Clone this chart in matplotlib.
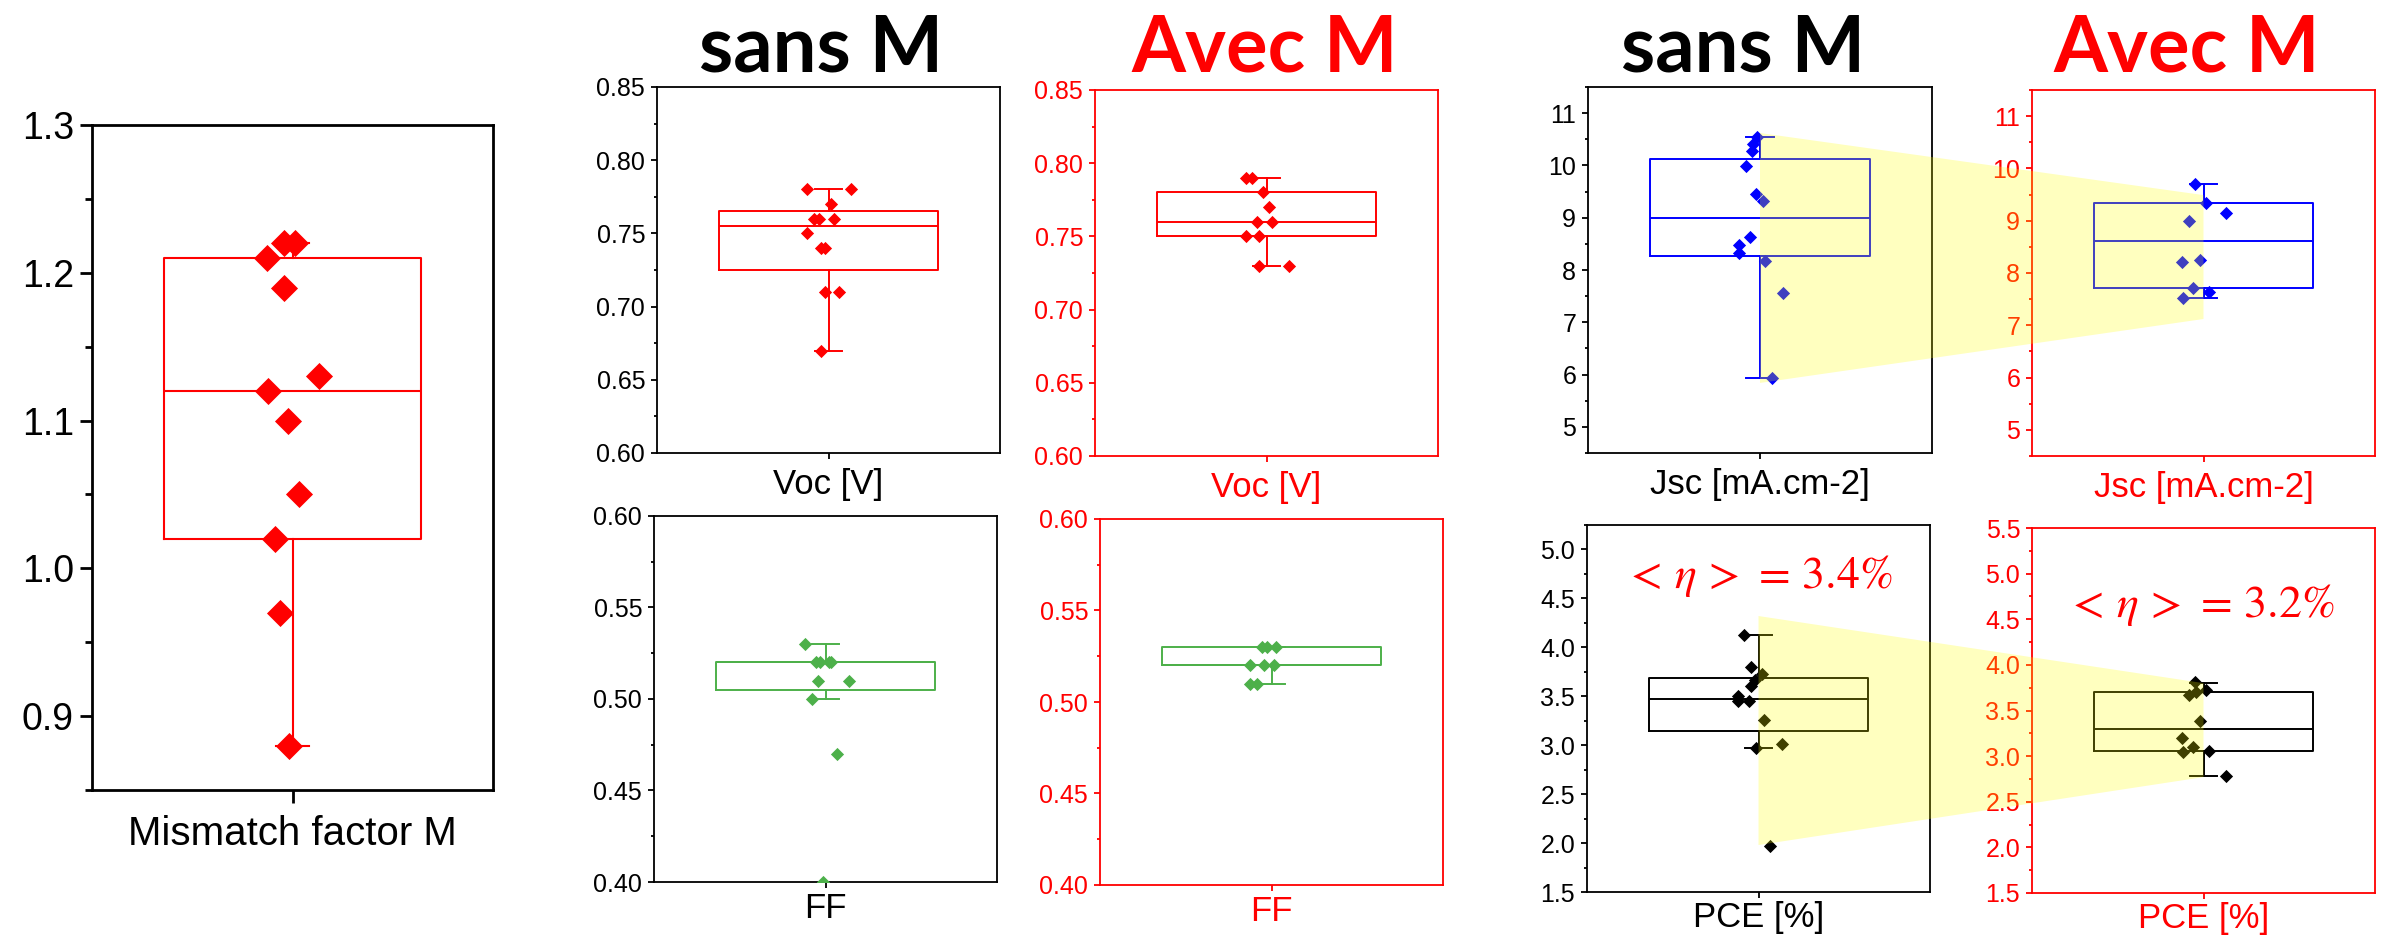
import matplotlib
matplotlib.use('Agg')
import matplotlib.pyplot as plt
from matplotlib.path import Path
from matplotlib.patches import Polygon
from matplotlib.ticker import MultipleLocator, FormatStrFormatter

plt.rcParams['font.family'] = ['Liberation Sans', 'DejaVu Sans']
plt.rcParams['mathtext.fontset'] = 'stix'

# ---- data ----
# box stats are [whisker low, Q1, median, Q3, whisker high]
m_values = [1.22, 1.22, 1.21, 1.19, 1.13, 1.12, 1.10, 1.05, 1.02, 0.97, 0.88]
m_jitter = [-0.022, 0.007, -0.064, -0.022, 0.067, -0.062, -0.010, 0.015, -0.043, -0.031, -0.009]
m_box = [0.88, 1.02, 1.12, 1.21, 1.22]

voc_sans = [0.78, 0.78, 0.77, 0.76, 0.76, 0.76, 0.75, 0.74, 0.74, 0.71, 0.71, 0.67]
voc_sans_jit = [-0.062, 0.066, 0.008, -0.043, -0.028, 0.015, -0.062, -0.021, -0.010, -0.009, 0.032, -0.023]
voc_sans_box = [0.67, 0.725, 0.755, 0.765, 0.78]

voc_avec = [0.79, 0.79, 0.78, 0.77, 0.76, 0.76, 0.75, 0.75, 0.73, 0.73]
voc_avec_jit = [-0.061, -0.042, -0.010, 0.008, -0.029, 0.016, -0.061, -0.021, -0.021, 0.066]
voc_avec_box = [0.73, 0.75, 0.76, 0.78, 0.79]

ff_sans = [0.53, 0.52, 0.52, 0.52, 0.52, 0.51, 0.51, 0.50, 0.47, 0.40]
ff_sans_jit = [-0.060, -0.028, -0.015, 0.011, 0.017, -0.021, 0.068, -0.039, 0.034, -0.007]
ff_sans_box = [0.50, 0.505, 0.52, 0.52, 0.53]

ff_avec = [0.53, 0.53, 0.53, 0.52, 0.52, 0.52, 0.51, 0.51]
ff_avec_jit = [-0.027, -0.014, 0.014, -0.062, -0.023, 0.006, -0.062, -0.043]
ff_avec_box = [0.51, 0.52, 0.52, 0.53, 0.53]

jsc_sans = [10.54, 10.41, 10.28, 9.99, 9.45, 9.32, 8.63, 8.47, 8.32, 8.18, 7.56, 5.94]
jsc_sans_jit = [-0.010, -0.019, -0.022, -0.041, -0.013, 0.010, -0.029, -0.061, -0.062, 0.015, 0.068, 0.034]
jsc_sans_box = [5.94, 8.26, 9.00, 10.13, 10.54]

jsc_avec = [9.70, 9.33, 9.14, 9.00, 8.21, 8.25, 7.72, 7.63, 7.53]
jsc_avec_jit = [-0.024, 0.007, 0.065, -0.042, -0.063, -0.011, -0.030, 0.015, -0.061]
jsc_avec_box = [7.53, 7.72, 8.62, 9.33, 9.70]

pce_sans = [4.13, 3.80, 3.73, 3.67, 3.60, 3.50, 3.45, 3.45, 3.26, 3.01, 2.97, 1.97]
pce_sans_jit = [-0.041, -0.021, 0.010, -0.010, -0.021, -0.061, -0.061, -0.029, 0.015, 0.068, -0.008, 0.034]
pce_sans_box = [2.97, 3.14, 3.47, 3.69, 4.13]

pce_avec = [3.81, 3.73, 3.67, 3.70, 3.39, 3.20, 3.10, 3.05, 3.06, 2.78]
pce_avec_jit = [-0.024, 0.007, -0.042, -0.022, -0.011, -0.063, -0.030, -0.061, 0.015, 0.065]
pce_avec_box = [2.78, 3.06, 3.30, 3.70, 3.80]

mean_pce = ['3.4', '3.2']
titles = ['sans M', 'Avec M', 'sans M', 'Avec M']

# yellow highlight: y values at the sans side and avec side (top, bottom)
jsc_band = [(10.62, 5.84), (9.49, 7.12)]
pce_band = [(4.32, 1.98), (3.80, 2.77)]

RED = '#FF0000'
GREEN = '#4DB04A'
BLUE = '#0000FF'
W, H = 2387, 939

fig = plt.figure(figsize=(W / 100, H / 100), dpi=100)

diamond = Path([(0, 1), (1, 0), (0, -1), (-1, 0), (0, 1)],
               [Path.MOVETO, Path.LINETO, Path.LINETO, Path.LINETO, Path.CLOSEPOLY])


def make_ax(left, right, top, bottom):
    return fig.add_axes([left / W, 1 - bottom / H, (right - left) / W, (bottom - top) / H])


def panel(ax, values, jit, box, color, ylim, major, fmt, label, frame,
          ms=9.5, tick_fs=18, label_fs=25, lw=1.4, spine_lw=1.3, tl=4.5, xpad=6):
    stats = [dict(whislo=box[0], q1=box[1], med=box[2], q3=box[3], whishi=box[4], fliers=[])]
    lp = dict(color=color, lw=lw)
    ax.bxp(stats, positions=[0], widths=0.64, capwidths=0.08, showfliers=False,
           boxprops=lp, medianprops=lp, whiskerprops=lp, capprops=lp)
    ax.plot(jit, values, linestyle='none', marker=diamond, ms=ms, mew=0,
            color=color, zorder=3)
    ax.set_xlim(-0.5, 0.5)
    ax.set_ylim(*ylim)
    ax.set_xticks([0])
    ax.set_xticklabels([label], fontsize=label_fs, color=frame)
    ax.yaxis.set_major_locator(MultipleLocator(major))
    ax.yaxis.set_minor_locator(MultipleLocator(major / 2))
    ax.yaxis.set_major_formatter(FormatStrFormatter(fmt))
    ax.tick_params(axis='y', which='major', direction='out', length=tl, width=spine_lw,
                   labelsize=tick_fs, colors=frame, pad=4)
    ax.tick_params(axis='y', which='minor', direction='out', length=tl * 0.55,
                   width=spine_lw, colors=frame)
    ax.tick_params(axis='x', direction='out', length=tl, width=spine_lw, colors=frame, pad=xpad)
    for s in ax.spines.values():
        s.set_color(frame)
        s.set_linewidth(spine_lw)


# left panel: mismatch factor
ax_m = make_ax(92, 493, 125, 790)
panel(ax_m, m_values, m_jitter, m_box, RED, (0.85, 1.3), 0.1, '%.1f',
      'Mismatch factor M', 'black', ms=19.5, tick_fs=27, label_fs=29,
      lw=1.5, spine_lw=2.0, tl=9, xpad=9)

ax_voc_s = make_ax(657, 1000, 87, 453)
panel(ax_voc_s, voc_sans, voc_sans_jit, voc_sans_box, RED, (0.60, 0.85), 0.05, '%.2f',
      'Voc [V]', 'black')
ax_voc_a = make_ax(1095, 1438, 90, 456)
panel(ax_voc_a, voc_avec, voc_avec_jit, voc_avec_box, RED, (0.60, 0.85), 0.05, '%.2f',
      'Voc [V]', RED)

ax_ff_s = make_ax(654, 997, 516, 882)
panel(ax_ff_s, ff_sans, ff_sans_jit, ff_sans_box, GREEN, (0.40, 0.60), 0.05, '%.2f',
      'FF', 'black', xpad=3)
ax_ff_a = make_ax(1100, 1443, 519, 885)
panel(ax_ff_a, ff_avec, ff_avec_jit, ff_avec_box, GREEN, (0.40, 0.60), 0.05, '%.2f',
      'FF', RED, xpad=3)

ax_jsc_s = make_ax(1588, 1932, 87, 453)
panel(ax_jsc_s, jsc_sans, jsc_sans_jit, jsc_sans_box, BLUE, (4.5, 11.5), 1, '%d',
      'Jsc [mA.cm-2]', 'black')
ax_jsc_a = make_ax(2032, 2375, 90, 456)
panel(ax_jsc_a, jsc_avec, jsc_avec_jit, jsc_avec_box, BLUE, (4.5, 11.5), 1, '%d',
      'Jsc [mA.cm-2]', RED)

ax_pce_s = make_ax(1587, 1930, 525, 892)
panel(ax_pce_s, pce_sans, pce_sans_jit, pce_sans_box, 'black', (1.5, 5.25), 0.5, '%.1f',
      'PCE [%]', 'black', xpad=2)
ax_pce_a = make_ax(2032, 2375, 528, 893)
panel(ax_pce_a, pce_avec, pce_avec_jit, pce_avec_box, 'black', (1.5, 5.5), 0.5, '%.1f',
      'PCE [%]', RED, xpad=2)

# mean efficiency notes
ax_pce_s.text(0.5, 0.828, r'$<\,\eta\,>\,=\,\mathrm{%s\%%}$' % mean_pce[0], transform=ax_pce_s.transAxes,
              ha='center', va='baseline', fontsize=33, color=RED)
ax_pce_a.text(0.49, 0.756, r'$<\,\eta\,>\,=\,\mathrm{%s\%%}$' % mean_pce[1], transform=ax_pce_a.transAxes,
              ha='center', va='baseline', fontsize=33, color=RED)

# column titles
for x, t, c in zip([821, 1265, 1743, 2187], titles, ['black', RED, 'black', RED]):
    fig.text(x / W, 1 - 72 / H, t, ha='center', va='baseline', fontsize=56,
             fontweight='bold', color=c, family=['Lato', 'DejaVu Sans'])


# translucent yellow bands linking sans -> avec boxes
def band(ax_a, ax_b, ys):
    to_fig = fig.transFigure.inverted()
    pts = [ax_a.transData.transform((0, ys[0][0])),
           ax_b.transData.transform((0, ys[1][0])),
           ax_b.transData.transform((0, ys[1][1])),
           ax_a.transData.transform((0, ys[0][1]))]
    pts = [to_fig.transform(p) for p in pts]
    fig.patches.append(Polygon(pts, closed=True, transform=fig.transFigure,
                               facecolor=(1, 1, 0), alpha=0.25, edgecolor='none', zorder=10))


band(ax_jsc_s, ax_jsc_a, jsc_band)
band(ax_pce_s, ax_pce_a, pce_band)

fig.savefig('out.png', dpi=100)
